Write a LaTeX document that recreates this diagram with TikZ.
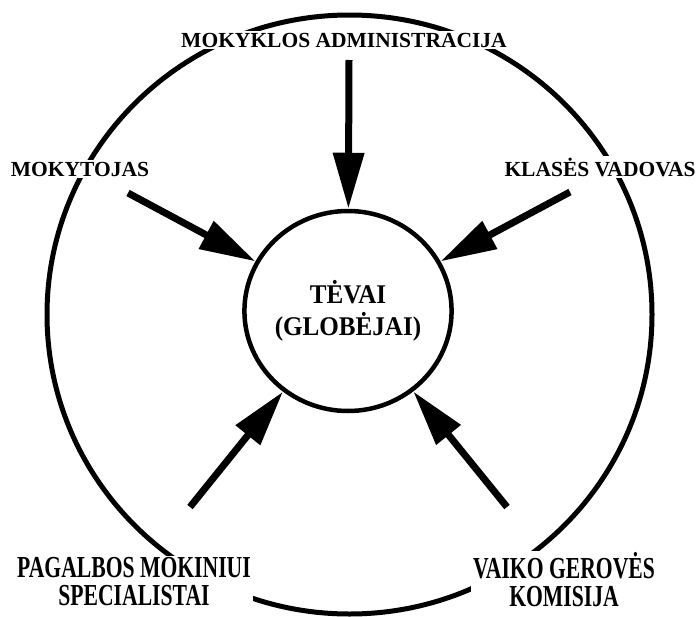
\documentclass[tikz,border=0pt]{standalone}
\usepackage{fontspec}
\setmainfont{Liberation Serif}
\newfontfamily\siaura[FakeStretch=0.71]{Liberation Serif}
\newfontfamily\vidutine[FakeStretch=0.93]{Liberation Serif}
\usetikzlibrary{arrows.meta, shapes.geometric}

\begin{document}
\begin{tikzpicture}[
  x=1pt, y=-1pt,
  rodykle/.style={draw=black, line width=7pt,
                  -{Triangle[length=56pt, width=30pt]}},
  uzrasas/.style={fill=white, align=center, inner sep=2pt,
                  font=\fontsize{21.5}{25}\selectfont\bfseries},
  apacia/.style={uzrasas,
                 font=\siaura\fontsize{30.5}{28}\selectfont\bfseries},
  ratas/.style={ellipse, draw=black, line width=4.5pt,
                minimum width=190pt, minimum height=200pt, inner sep=0pt,
                align=center,
                font=\vidutine\fontsize{27}{32}\selectfont\bfseries}
]
\useasboundingbox (0,0) rectangle (699,616);

%--------------------------------------------------------------
% Didysis ratas (uzrasai ji pertraukia)
%--------------------------------------------------------------
\draw[line width=5pt] (349.5,314.5) ellipse[x radius=302.5pt, y radius=299.5pt];

%--------------------------------------------------------------
% Centras: tevai (globejai)
%--------------------------------------------------------------
\node[ratas] (tevai) at (348,311) {TĖVAI\\ (GLOBĖJAI)};

%--------------------------------------------------------------
% Uzrasai ant didziojo rato
%--------------------------------------------------------------
\node[uzrasas, anchor=base] (admin)   at (344,47)  {MOKYKLOS ADMINISTRACIJA};
\node[uzrasas, anchor=base] (mokyt)   at (80,176)  {MOKYTOJAS};
\node[uzrasas, anchor=base] (vadovas) at (600,176) {KLASĖS VADOVAS};
\node[apacia] (pagalba) at (134,582) {PAGALBOS MOKINIUI\\ SPECIALISTAI};
\node[apacia] (gerove)  at (564,580) {VAIKO GEROVĖS\\ KOMISIJA};

%--------------------------------------------------------------
% Rodykles link centro
%--------------------------------------------------------------
\coordinate (r1) at (349,60);
\coordinate (r2) at (128,193);
\coordinate (r3) at (570,192);
\coordinate (r4) at (190,507);
\coordinate (r5) at (507,507);

\draw[rodykle] (r1) -- (tevai);
\draw[rodykle] (r2) -- (tevai);
\draw[rodykle] (r3) -- (tevai);
\draw[rodykle] (r4) -- (tevai);
\draw[rodykle] (r5) -- (tevai);

\end{tikzpicture}
\end{document}
